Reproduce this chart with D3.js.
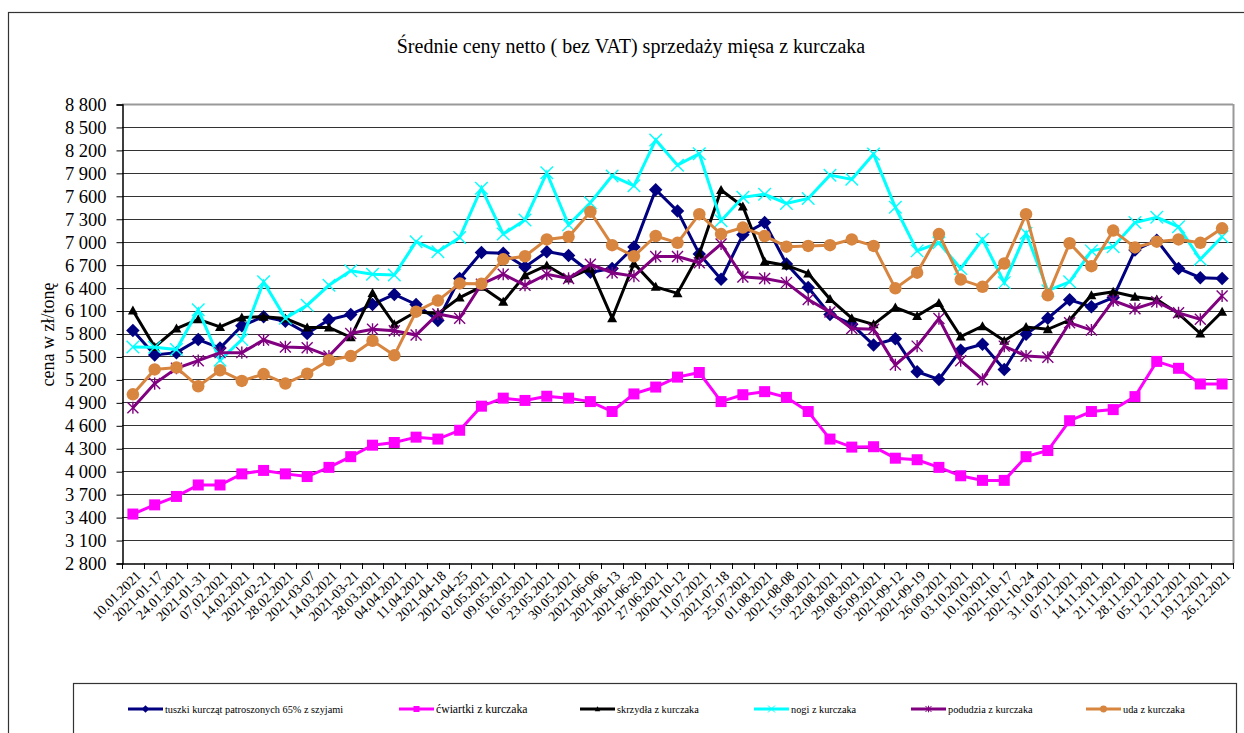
<!DOCTYPE html>
<html>
<head>
<meta charset="utf-8">
<script src="https://cdn.jsdelivr.net/npm/d3@7.9.0/dist/d3.min.js"></script>
<style>
  html, body { margin: 0; padding: 0; background: #fff; }
  svg { display: block; font-family: "Liberation Serif", "Times New Roman", serif; }
</style>
</head>
<body>
<svg width="1244" height="733"></svg>
<script>
// data (zł/tonę)
const categories = [
  "10.01.2021", "2021-01-17", "24.01.2021", "2021-01-31", "07.02.2021", "14.02.2021",
  "2021-02-21", "28.02.2021", "2021-03-07", "14.03.2021", "2021-03-21", "28.03.2021",
  "04.04.2021", "11.04.2021", "2021-04-18", "2021-04-25", "02.05.2021", "09.05.2021",
  "16.05.2021", "23.05.2021", "30.05.2021", "2021-06-06", "2021-06-13", "2021-06-20",
  "27.06.2021", "2020-10-12", "11.07.2021", "2021-07-18", "25.07.2021", "01.08.2021",
  "2021-08-08", "15.08.2021", "22.08.2021", "29.08.2021", "05.09.2021", "2021-09-12",
  "2021-09-19", "26.09.2021", "03.10.2021", "10.10.2021", "2021-10-17", "2021-10-24",
  "31.10.2021", "07.11.2021", "14.11.2021", "21.11.2021", "28.11.2021", "05.12.2021",
  "12.12.2021", "19.12.2021", "26.12.2021"
];

const tuszki = [5840, 5520, 5550, 5720, 5610, 5900, 6020, 5960, 5800, 5980, 6050, 6180,
  6310, 6180, 5970, 6520, 6860, 6850, 6670, 6870, 6820, 6600, 6650, 6930,
  7680, 7400, 6840, 6510, 7090, 7250, 6710, 6400, 6050, 5920, 5650, 5730,
  5300, 5200, 5580, 5660, 5330, 5790, 6000, 6240, 6150, 6270, 6890, 7020,
  6650, 6530, 6520];

const cwiartki = [3440, 3560, 3670, 3820, 3820, 3965, 4010, 3965, 3930, 4050, 4190, 4340,
  4375, 4445, 4420, 4535, 4850, 4955, 4925, 4980, 4955, 4910, 4780, 5010,
  5100, 5230, 5290, 4910, 5000, 5040, 4965, 4780, 4420, 4315, 4320, 4170,
  4150, 4050, 3940, 3880, 3880, 4190, 4270, 4660, 4780, 4805, 4975, 5435,
  5345, 5140, 5140];

const skrzydla = [6100, 5625, 5865, 5985, 5885, 6010, 6020, 5995, 5880, 5880, 5750, 6330,
  5920, 6085, 6060, 6270, 6410, 6215, 6560, 6690, 6520, 6650, 6000, 6715,
  6410, 6325, 6840, 7675, 7460, 6740, 6690, 6585, 6250, 6000, 5920, 6140,
  6030, 6200, 5760, 5895, 5705, 5885, 5855, 5975, 6300, 6345, 6280, 6245,
  6060, 5800, 6085];

const nogi = [5625, 5620, 5590, 6110, 5450, 5720, 6475, 6000, 6170, 6430, 6620, 6575,
  6565, 7000, 6870, 7055, 7700, 7100, 7285, 7900, 7220, 7510, 7860, 7730,
  8330, 8000, 8150, 7275, 7580, 7620, 7500, 7565, 7870, 7815, 8145, 7450,
  6880, 6985, 6650, 7030, 6465, 7110, 6360, 6475, 6880, 6935, 7250, 7320,
  7195, 6770, 7065];

const podudzia = [4830, 5145, 5345, 5445, 5550, 5550, 5715, 5625, 5615, 5505, 5800, 5855,
  5835, 5780, 6055, 6000, 6445, 6575, 6430, 6575, 6520, 6705, 6595, 6550,
  6805, 6805, 6725, 6970, 6540, 6520, 6465, 6245, 6080, 5865, 5855, 5390,
  5635, 5995, 5445, 5200, 5635, 5505, 5490, 5940, 5845, 6230, 6125, 6215,
  6070, 5985, 6290];

const uda = [5005, 5330, 5355, 5110, 5320, 5180, 5270, 5145, 5275, 5450, 5505, 5705,
  5515, 6085, 6230, 6455, 6450, 6770, 6810, 7030, 7065, 7390, 6955, 6810,
  7075, 6985, 7360, 7100, 7185, 7075, 6935, 6945, 6955, 7030, 6945, 6390,
  6595, 7100, 6505, 6410, 6715, 7360, 6300, 6980, 6680, 7145, 6925, 7000,
  7030, 6985, 7175];

const seriesNames = ["tuszki kurcząt patroszonych 65% z szyjami", "ćwiartki z kurczaka",
  "skrzydła z kurczaka", "nogi z kurczaka", "podudzia z kurczaka", "uda z kurczaka"];
const yTicks = d3.range(2800, 8801, 300);

const title = "Średnie ceny netto ( bez VAT) sprzedaży mięsa z kurczaka";
const yTitle = "cena w zł/tonę";

// series look (Excel-ish)
const styles = [
  { color: "#000080", marker: "diamond" },
  { color: "#ff00ff", marker: "square" },
  { color: "#000000", marker: "triangle" },
  { color: "#00ffff", marker: "x" },
  { color: "#800080", marker: "star" },
  { color: "#d8853f", marker: "circle" }
];
const allSeries = [tuszki, cwiartki, skrzydla, nogi, podudzia, uda];

const svg = d3.select("svg");
svg.append("rect").attr("width", 1244).attr("height", 733).attr("fill", "#fff");

// outer frame of the chart object
svg.append("rect")
  .attr("x", 8.5).attr("y", 12.5).attr("width", 1300).attr("height", 800)
  .attr("fill", "none").attr("stroke", "#333").attr("stroke-width", 1.2);

const plotLeft = 122, plotRight = 1233, plotTop = 104, plotBottom = 563;

const x = d3.scaleBand().domain(categories).range([plotLeft, plotRight]).padding(0);
const cx = d => x(d) + x.bandwidth() / 2;
const y = d3.scaleLinear().domain([2800, 8800]).range([plotBottom, plotTop]);

const fmt = d3.formatLocale({ decimal: ",", thousands: " ", grouping: [3], currency: ["", ""] }).format(",");

// title
svg.append("text")
  .attr("x", 631).attr("y", 53)
  .attr("text-anchor", "middle")
  .attr("font-size", 20)
  .text(title);

// gridlines
svg.append("g")
  .selectAll("line")
  .data(yTicks.filter(t => t > 2800))
  .join("line")
  .attr("x1", plotLeft).attr("x2", plotRight)
  .attr("y1", d => Math.round(y(d)) + 0.5).attr("y2", d => Math.round(y(d)) + 0.5)
  .attr("stroke", d => d === 8800 ? "#999" : "#333")
  .attr("stroke-width", d => d === 8800 ? 2 : 1);

// right border of plot area
svg.append("line")
  .attr("x1", plotRight + 0.5).attr("x2", plotRight + 0.5)
  .attr("y1", plotTop).attr("y2", plotBottom)
  .attr("stroke", "#999").attr("stroke-width", 2);

// y axis
const yAxis = svg.append("g")
  .attr("transform", `translate(${plotLeft + 0.5},0.5)`)
  .call(d3.axisLeft(y).tickValues(yTicks).tickSize(6).tickPadding(10).tickFormat(fmt));
yAxis.select(".domain").attr("stroke", "#000").attr("stroke-width", 1.5);
yAxis.selectAll(".tick line").attr("stroke", "#000");
yAxis.selectAll("text")
  .attr("font-family", "Liberation Serif, serif")
  .attr("font-size", 18.5)
  .attr("fill", "#000");

svg.append("text")
  .attr("transform", `translate(54,${(plotTop + plotBottom) / 2 + 1}) rotate(-90)`)
  .attr("text-anchor", "middle")
  .attr("font-size", 18)
  .text(yTitle);

// x axis
const xAxis = svg.append("g")
  .attr("transform", `translate(0,${plotBottom + 0.5})`)
  .call(d3.axisBottom(x).tickSize(0).tickPadding(0));
xAxis.select(".domain").attr("stroke", "#000").attr("stroke-width", 1.5);
xAxis.selectAll(".tick text")
  .attr("font-family", "Liberation Serif, serif")
  .attr("font-size", 13.8)
  .attr("fill", "#000")
  .attr("y", 0).attr("dy", 0)
  .attr("text-anchor", "end")
  .attr("transform", "translate(9,13) rotate(-45)");

// category boundary ticks
svg.append("g")
  .selectAll("line")
  .data(categories.map(c => x(c)).concat([plotRight]))
  .join("line")
  .attr("x1", d => Math.round(d) + 0.5).attr("x2", d => Math.round(d) + 0.5)
  .attr("y1", plotBottom).attr("y2", plotBottom + 6)
  .attr("stroke", "#000");

// marker shapes
function markerPath(type, s) {
  const h = s / 2;
  switch (type) {
    case "diamond": return `M0,${-h}L${h},0L0,${h}L${-h},0Z`;
    case "square": return `M${-h},${-h}H${h}V${h}H${-h}Z`;
    case "triangle": return `M0,${-h}L${h},${h * 0.8}L${-h},${h * 0.8}Z`;
    case "x": return `M${-h},${-h}L${h},${h}M${h},${-h}L${-h},${h}`;
    case "star": return `M${-h},${-h}L${h},${h}M${h},${-h}L${-h},${h}M0,${-h * 1.1}V${h * 1.1}`;
    case "circle": return d3.symbol(d3.symbolCircle, Math.PI * h * h)();
  }
}
const markerSize = { diamond: 13.5, square: 11, triangle: 10, x: 12.5, star: 11, circle: 12.5 };
const isStroke = t => t === "x" || t === "star";

const line = d3.line().x((d, i) => cx(categories[i])).y(d => y(d));

allSeries.forEach((vals, si) => {
  const st = styles[si];
  const g = svg.append("g");
  g.append("path")
    .datum(vals)
    .attr("d", line)
    .attr("fill", "none")
    .attr("stroke", st.color)
    .attr("stroke-width", 3)
    .attr("stroke-linejoin", "miter");
  g.selectAll("path.m")
    .data(vals)
    .join("path")
    .attr("class", "m")
    .attr("transform", (d, i) => `translate(${cx(categories[i])},${y(d)})`)
    .attr("d", markerPath(st.marker, markerSize[st.marker]))
    .attr("fill", isStroke(st.marker) ? "none" : st.color)
    .attr("stroke", st.color)
    .attr("stroke-width", isStroke(st.marker) ? 1.4 : 0);
});

// legend
svg.append("rect")
  .attr("x", 73.5).attr("y", 683.5).attr("width", 1163).attr("height", 100)
  .attr("fill", "#fff").attr("stroke", "#333").attr("stroke-width", 1.2);

const legendX = [128, 399, 580, 754, 911, 1086];
const lg = svg.append("g").selectAll("g")
  .data(seriesNames)
  .join("g")
  .attr("transform", (d, i) => `translate(${legendX[i]},709)`);
lg.append("line")
  .attr("x1", 0).attr("x2", 35)
  .attr("stroke", (d, i) => styles[i].color)
  .attr("stroke-width", 3);
lg.append("path")
  .attr("transform", "translate(17.5,0)")
  .attr("d", (d, i) => markerPath(styles[i].marker, markerSize[styles[i].marker] * 0.55))
  .attr("fill", (d, i) => isStroke(styles[i].marker) ? "none" : styles[i].color)
  .attr("stroke", (d, i) => styles[i].color)
  .attr("stroke-width", (d, i) => isStroke(styles[i].marker) ? 1 : 0);
lg.append("text")
  .attr("x", 37).attr("y", 3.5)
  .attr("font-size", (d, i) => i === 1 ? 11.7 : 10.3)
  .text(d => d);
</script>
</body>
</html>
